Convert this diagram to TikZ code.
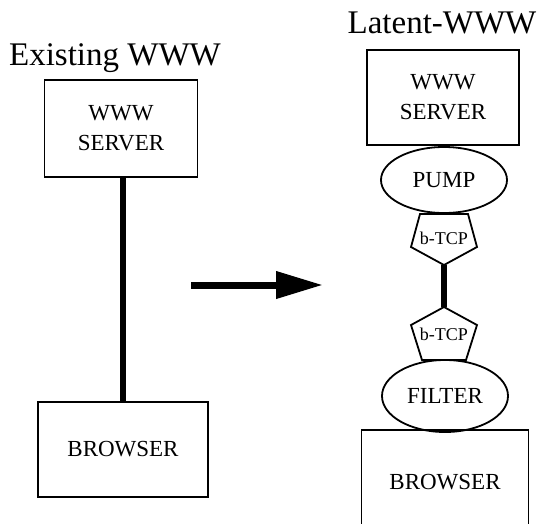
\documentclass[tikz,border=0pt]{standalone}
\usepackage{fontspec}
\setmainfont{Liberation Serif}
\usetikzlibrary{arrows.meta,positioning,shapes.geometric,calc}

\begin{document}
\begin{tikzpicture}[x=1pt, y=-1pt,
    title/.style={anchor=base, font=\fontsize{33}{36}\selectfont},
    host/.style={draw, line width=1.3pt, align=center, inner sep=0pt,
                 font=\fontsize{23}{30}\selectfont},
    stage/.style={draw, ellipse, line width=1.8pt, inner sep=0pt,
                  minimum width=126pt, minimum height=66pt, font=\fontsize{23}{28}\selectfont},
    tcp/.style={inner sep=0pt, font=\fontsize{18}{20}\selectfont},
    link/.style={line width=6.5pt},
]
\clip (0,0) rectangle (539,523);

% Existing WWW
\node[title] (ltitle) at (115,65) {Existing WWW};
\node[host, minimum width=153pt, minimum height=97pt] (lserver) at (121,128.5) {WWW\\SERVER};
\node[host, minimum width=170pt, minimum height=95pt] (lbrowser) at (123,449.5) {BROWSER};
\draw[link] (lbrowser.north |- lserver.south) -- (lbrowser.north);

% the big arrow
\coordinate (arrs) at (191,285);
\coordinate (arre) at (323,285);
\draw[line width=7pt, -{Triangle[length=47pt, width=26pt]}] (arrs) -- (arre);

% Latent-WWW
\node[title] (rtitle) at (442,33) {Latent-WWW};
\node[host, minimum width=152pt, minimum height=95pt] (rserver) at (443,97.5) {WWW\\SERVER};
\node[stage] (pump) at (444,180) {PUMP};
\node[tcp] (tcpa) at (444,238) {b-TCP};
\node[tcp] (tcpb) at (444,334) {b-TCP};
\node[stage, minimum height=72pt] (filter) at (445,396) {FILTER};
\node[host, minimum width=167pt, minimum height=104pt] (rbrowser) at (445,482) {BROWSER};

% pentagons round the b-TCP labels
\draw[line width=1.8pt, line join=miter]
    ($(tcpa)+(-24,-24)$) -- ($(tcpa)+(24,-24)$) -- ($(tcpa)+(33,9)$)
    -- ($(tcpa)+(0,27)$) coordinate (tcpa-tip) -- ($(tcpa)+(-33,9)$) -- cycle;
\draw[line width=1.8pt, line join=miter]
    ($(tcpb)+(-22,26)$) -- ($(tcpb)+(22,26)$) -- ($(tcpb)+(33,-9)$)
    -- ($(tcpb)+(0,-27)$) coordinate (tcpb-tip) -- ($(tcpb)+(-33,-9)$) -- cycle;
\draw[link] (tcpa-tip) -- (tcpb-tip);
\end{tikzpicture}
\end{document}
